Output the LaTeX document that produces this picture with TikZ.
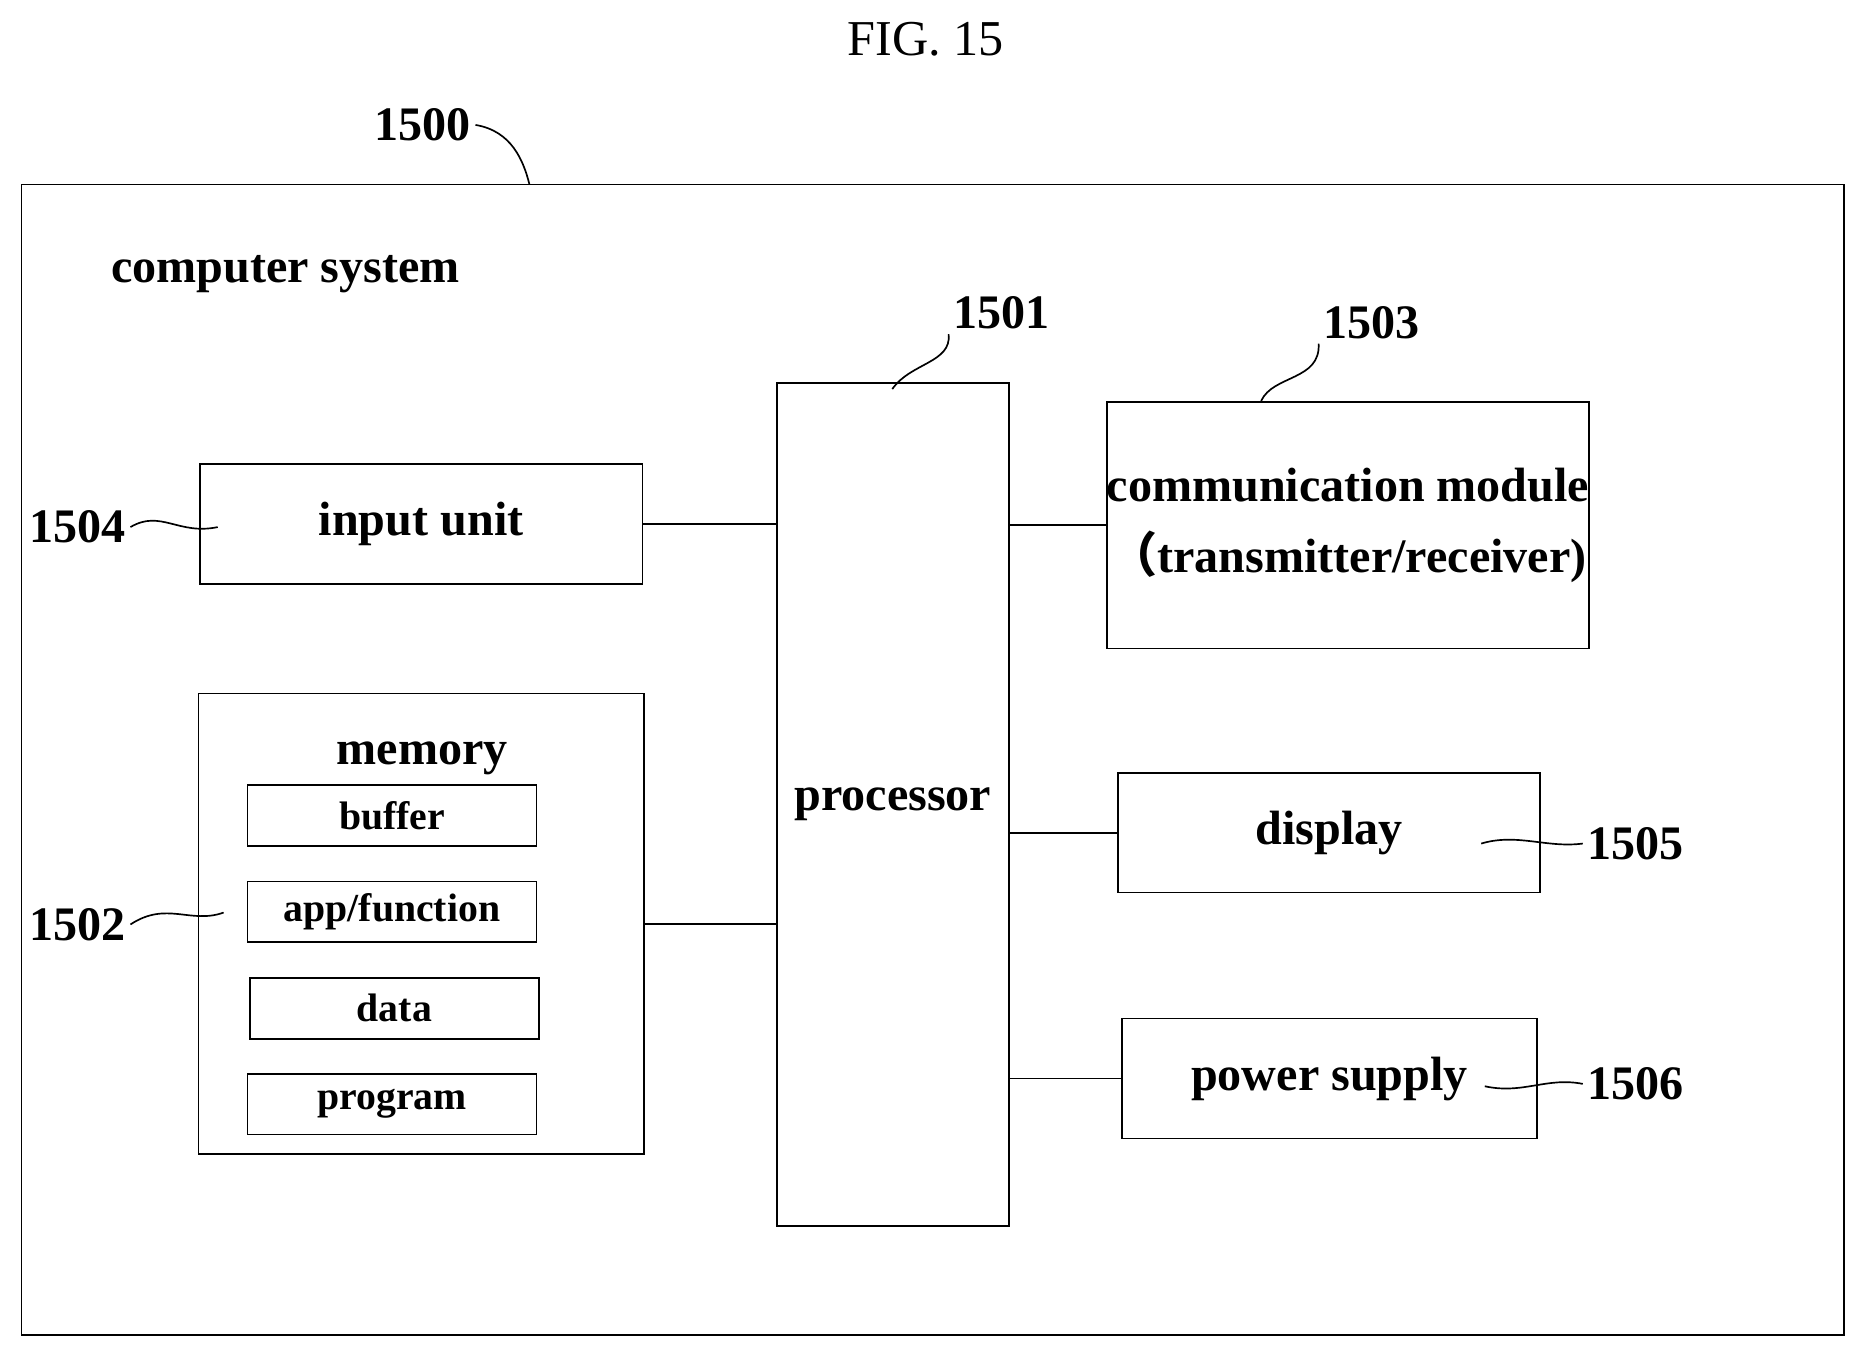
\documentclass[tikz,border=0pt]{standalone}
\usepackage{fontspec}
\setmainfont{Liberation Serif}
\newfontfamily\cjk{Noto Sans CJK SC}
\usetikzlibrary{positioning}
\tikzstyle{block} = [rectangle, draw=black, inner sep=0pt, align=center, font=\fontsize{11.5}{14}\selectfont\bfseries]
\tikzstyle{label} = [inner sep=0pt, font=\fontsize{11.5}{14}\selectfont\bfseries]
\tikzstyle{sub} = [rectangle, draw=black, inner sep=0pt, minimum width=2.43cm, minimum height=0.51cm, font=\fontsize{9.5}{11}\selectfont\bfseries]
\tikzstyle{num} = [font=\fontsize{11.5}{14}\selectfont\bfseries, inner sep=1pt]
\tikzstyle{wire} = [thin]
\begin{document}
\begin{tikzpicture}[x=0.01cm, y=-0.01cm]
\useasboundingbox (0,0) rectangle (1560,1135);
\node (fig) at (778,33) {\fontsize{12}{14}\selectfont FIG. 15};
\draw[wire] (18,155) rectangle (1550,1122);
\node (title) [num] at (240,230) {computer system};
% main blocks
\node (proc) [block, minimum width=1.95cm, minimum height=7.08cm] at (750.5,676) {processor};
\node (comm) [block, minimum width=4.04cm, minimum height=2.07cm] at (1133,441.5) {communication module\\[3pt]{\cjk （}transmitter/receiver)};
\node (input) [block, minimum width=3.72cm, minimum height=1.01cm] at (354,440.5) {input unit};
\node (mem) [block, minimum width=3.74cm, minimum height=3.87cm] at (354,776.5) {};
\node (memlab) [label] at (355,637) {memory};
\node (buffer) [sub] at (329.5,685.5) {buffer};
\node (app) [sub] at (329.5,766.5) {app/function};
\node (data) [sub] at (331.5,847.5) {data};
\node (prog) [sub] at (329.5,928) {program};
\node (disp) [block, minimum width=3.54cm, minimum height=1.00cm] at (1117,700) {display};
\node (power) [block, minimum width=3.49cm, minimum height=1.01cm] at (1117.5,906.5) {power supply};
% connectors
\draw[wire] (input.east) -- (proc.west |- input.east);
\draw[wire] (mem.east) -- (proc.west |- mem.east);
\draw[wire] (proc.east |- comm.west) -- (comm.west);
\draw[wire] (proc.east |- disp.west) -- (disp.west);
\draw[wire] (proc.east |- power.west) -- (power.west);
% reference numbers
\node (n1500) [num] at (355,105) {1500};
\node (n1501) [num] at (842,263) {1501};
\node (n1503) [num] at (1153,271) {1503};
\node (n1504) [num] at (65,443) {1504};
\node (n1502) [num] at (65,777) {1502};
\node (n1505) [num] at (1375,709) {1505};
\node (n1506) [num] at (1375,911) {1506};
\coordinate (t1500) at (445,155);
\coordinate (t1501) at (750,327);
\coordinate (t1503) at (1060,337);
\coordinate (t1504) at (183,443);
\coordinate (t1502) at (188,767);
\coordinate (t1505) at (1245,709);
\coordinate (t1506) at (1248,913);
\draw[wire] (n1500.east) .. controls (430,110) and (440,135) .. (t1500);
\draw[wire] (n1501.south west) .. controls (800,305) and (765,305) .. (t1501);
\draw[wire] (n1503.south west) .. controls (1110,320) and (1070,315) .. (t1503);
\draw[wire] (n1504.east) .. controls (135,428) and (150,450) .. (t1504);
\draw[wire] (n1502.east) .. controls (140,757) and (160,777) .. (t1502);
\draw[wire] (n1505.west) .. controls (1300,713) and (1275,700) .. (t1505);
\draw[wire] (n1506.west) .. controls (1300,905) and (1280,920) .. (t1506);
\end{tikzpicture}
\end{document}
